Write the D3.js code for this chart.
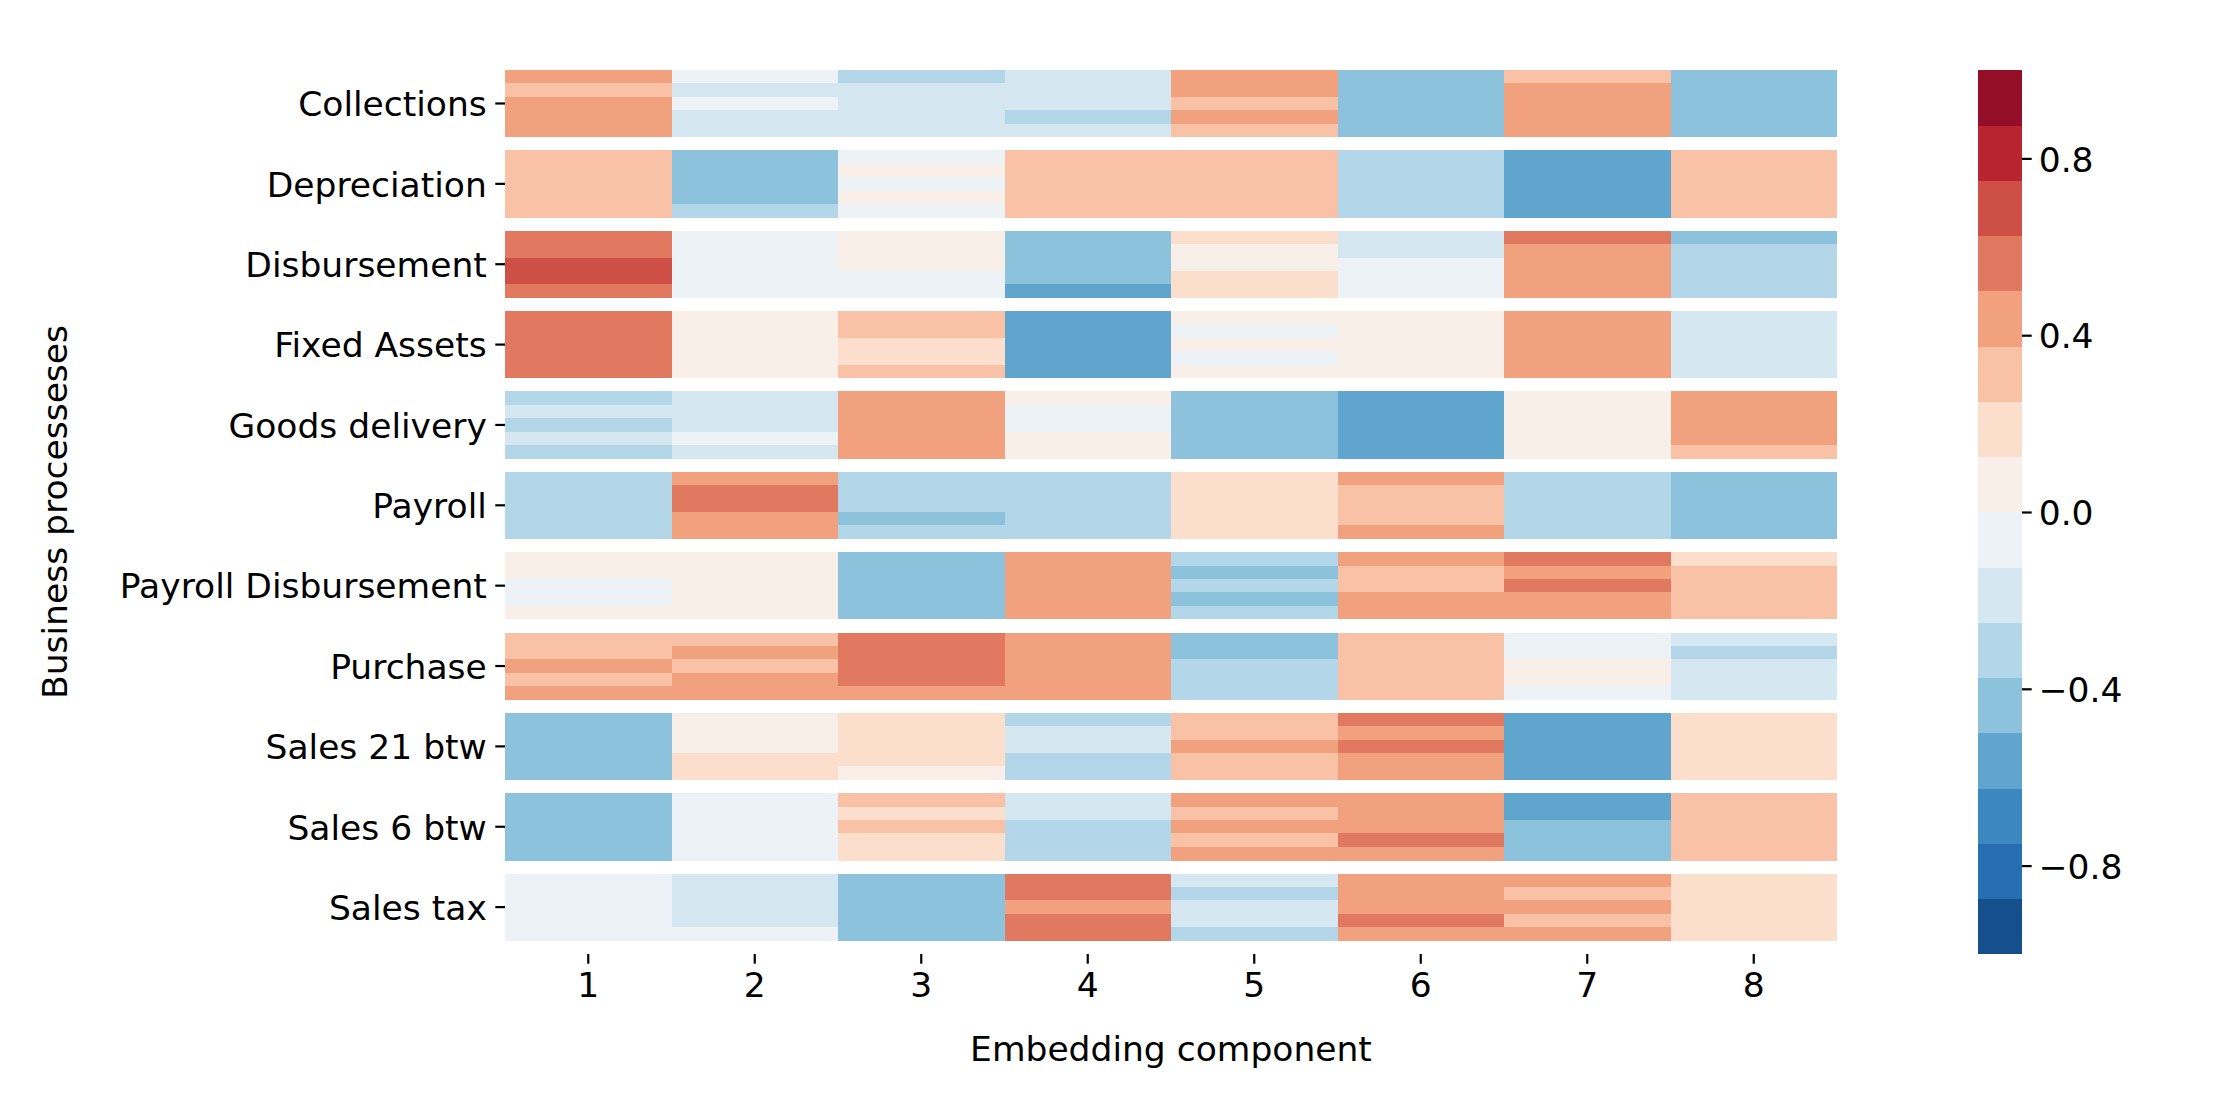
<!DOCTYPE html>
<html>
<head>
<meta charset="utf-8">
<script src="https://cdn.jsdelivr.net/npm/d3@7"></script>
<style>
  html, body { margin: 0; padding: 0; background: #fff; }
  svg { display: block; }
  text { font-family: "DejaVu Sans", sans-serif; fill: #000; }
</style>
</head>
<body>
<svg id="chart" width="2240" height="1120"></svg>
<script>
// ---------------- data ----------------
const processes = ["Collections", "Depreciation", "Disbursement", "Fixed Assets",
  "Goods delivery", "Payroll", "Payroll Disbursement", "Purchase",
  "Sales 21 btw", "Sales 6 btw", "Sales tax"];
const components = [1, 2, 3, 4, 5, 6, 7, 8];
const colorbarTicks = [-0.8, -0.4, 0.0, 0.4, 0.8];

// each process: 5 sub-rows x 8 embedding components
const collections = [
  [0.44, -0.06, -0.31, -0.19, 0.44, -0.44, 0.31, -0.44],
  [0.31, -0.19, -0.19, -0.19, 0.44, -0.44, 0.44, -0.44],
  [0.44, -0.06, -0.19, -0.19, 0.31, -0.44, 0.44, -0.44],
  [0.44, -0.19, -0.19, -0.31, 0.44, -0.44, 0.44, -0.44],
  [0.44, -0.19, -0.19, -0.19, 0.31, -0.44, 0.44, -0.44]];
const depreciation = [
  [0.31, -0.44, -0.06, 0.31, 0.31, -0.31, -0.56, 0.31],
  [0.31, -0.44, 0.06, 0.31, 0.31, -0.31, -0.56, 0.31],
  [0.31, -0.44, -0.06, 0.31, 0.31, -0.31, -0.56, 0.31],
  [0.31, -0.44, 0.06, 0.31, 0.31, -0.31, -0.56, 0.31],
  [0.31, -0.31, -0.06, 0.31, 0.31, -0.31, -0.56, 0.31]];
const disbursement = [
  [0.56, -0.06, 0.06, -0.44, 0.19, -0.19, 0.56, -0.44],
  [0.56, -0.06, 0.06, -0.44, 0.06, -0.19, 0.44, -0.31],
  [0.69, -0.06, 0.06, -0.44, 0.06, -0.06, 0.44, -0.31],
  [0.69, -0.06, -0.06, -0.44, 0.19, -0.06, 0.44, -0.31],
  [0.56, -0.06, -0.06, -0.56, 0.19, -0.06, 0.44, -0.31]];
const fixedAssets = [
  [0.56, 0.06, 0.31, -0.56, 0.06, 0.06, 0.44, -0.19],
  [0.56, 0.06, 0.31, -0.56, -0.06, 0.06, 0.44, -0.19],
  [0.56, 0.06, 0.19, -0.56, 0.06, 0.06, 0.44, -0.19],
  [0.56, 0.06, 0.19, -0.56, -0.06, 0.06, 0.44, -0.19],
  [0.56, 0.06, 0.31, -0.56, 0.06, 0.06, 0.44, -0.19]];
const goodsDelivery = [
  [-0.31, -0.19, 0.44, 0.06, -0.44, -0.56, 0.06, 0.44],
  [-0.19, -0.19, 0.44, -0.06, -0.44, -0.56, 0.06, 0.44],
  [-0.31, -0.19, 0.44, -0.06, -0.44, -0.56, 0.06, 0.44],
  [-0.19, -0.06, 0.44, 0.06, -0.44, -0.56, 0.06, 0.44],
  [-0.31, -0.19, 0.44, 0.06, -0.44, -0.56, 0.06, 0.31]];
const payroll = [
  [-0.31, 0.44, -0.31, -0.31, 0.19, 0.44, -0.31, -0.44],
  [-0.31, 0.56, -0.31, -0.31, 0.19, 0.31, -0.31, -0.44],
  [-0.31, 0.56, -0.31, -0.31, 0.19, 0.31, -0.31, -0.44],
  [-0.31, 0.44, -0.44, -0.31, 0.19, 0.31, -0.31, -0.44],
  [-0.31, 0.44, -0.31, -0.31, 0.19, 0.44, -0.31, -0.44]];
const payrollDisbursement = [
  [0.06, 0.06, -0.44, 0.44, -0.31, 0.44, 0.56, 0.19],
  [0.06, 0.06, -0.44, 0.44, -0.44, 0.31, 0.44, 0.31],
  [-0.06, 0.06, -0.44, 0.44, -0.31, 0.31, 0.56, 0.31],
  [-0.06, 0.06, -0.44, 0.44, -0.44, 0.44, 0.44, 0.31],
  [0.06, 0.06, -0.44, 0.44, -0.31, 0.44, 0.44, 0.31]];
const purchase = [
  [0.31, 0.31, 0.56, 0.44, -0.44, 0.31, -0.06, -0.19],
  [0.31, 0.44, 0.56, 0.44, -0.44, 0.31, -0.06, -0.31],
  [0.44, 0.31, 0.56, 0.44, -0.31, 0.31, 0.06, -0.19],
  [0.31, 0.44, 0.56, 0.44, -0.31, 0.31, 0.06, -0.19],
  [0.44, 0.44, 0.44, 0.44, -0.31, 0.31, -0.06, -0.19]];
const sales21 = [
  [-0.44, 0.06, 0.19, -0.31, 0.31, 0.56, -0.56, 0.19],
  [-0.44, 0.06, 0.19, -0.19, 0.31, 0.44, -0.56, 0.19],
  [-0.44, 0.06, 0.19, -0.19, 0.44, 0.56, -0.56, 0.19],
  [-0.44, 0.19, 0.19, -0.31, 0.31, 0.44, -0.56, 0.19],
  [-0.44, 0.19, 0.06, -0.31, 0.31, 0.44, -0.56, 0.19]];
const sales6 = [
  [-0.44, -0.06, 0.31, -0.19, 0.44, 0.44, -0.56, 0.31],
  [-0.44, -0.06, 0.19, -0.19, 0.31, 0.44, -0.56, 0.31],
  [-0.44, -0.06, 0.31, -0.31, 0.44, 0.44, -0.44, 0.31],
  [-0.44, -0.06, 0.19, -0.31, 0.31, 0.56, -0.44, 0.31],
  [-0.44, -0.06, 0.19, -0.31, 0.44, 0.44, -0.44, 0.31]];
const salesTax = [
  [-0.06, -0.19, -0.44, 0.56, -0.19, 0.44, 0.44, 0.19],
  [-0.06, -0.19, -0.44, 0.56, -0.31, 0.44, 0.31, 0.19],
  [-0.06, -0.19, -0.44, 0.44, -0.19, 0.44, 0.44, 0.19],
  [-0.06, -0.19, -0.44, 0.56, -0.19, 0.56, 0.31, 0.19],
  [-0.06, -0.06, -0.44, 0.56, -0.31, 0.44, 0.44, 0.19]];

const processValues = [collections, depreciation, disbursement, fixedAssets,
  goodsDelivery, payroll, payrollDisbursement, purchase, sales21, sales6, salesTax];

// ---------------- colours (RdBu_r, 16 discrete levels) ----------------
const rdbuR = ["#053061", "#2166ac", "#4393c3", "#92c5de", "#d1e5f0", "#f7f7f7",
  "#fddbc7", "#f4a582", "#d6604d", "#b2182b", "#67001f"];
const cont = d3.scaleLinear().domain(d3.range(11).map(i => i / 10)).range(rdbuR)
  .interpolate(d3.interpolateRgb);
const nLevels = 16;
const levels = d3.range(nLevels).map(k => cont((k + 1) / (nLevels + 1)));
const color = d3.scaleQuantize().domain([-1, 1]).range(levels);

// ---------------- layout ----------------
const svg = d3.select("#chart");
const plotLeft = 505, plotRight = 1837, plotTop = 70, plotBottom = 954;
const FS = 34.5;

const x = d3.scaleBand().domain(components).range([plotLeft, plotRight]);
const yGroup = d3.scaleBand().domain(processes).range([plotTop, plotBottom])
  .paddingInner(1 / 6).paddingOuter(1 / 12).align(0);
const ySub = d3.scaleBand().domain(d3.range(5)).range([0, yGroup.bandwidth()]);

const cells = [];
processes.forEach((p, gi) => {
  processValues[gi].forEach((row, ri) => {
    row.forEach((v, ci) => cells.push({ p, ri, c: components[ci], v }));
  });
});

svg.append("g").attr("shape-rendering", "crispEdges")
  .selectAll("rect").data(cells).join("rect")
  .attr("x", d => x(d.c))
  .attr("y", d => yGroup(d.p) + ySub(d.ri))
  .attr("width", x.bandwidth())
  .attr("height", ySub.bandwidth() + 0.3)
  .attr("fill", d => color(d.v));

// axes
const yAxis = svg.append("g").attr("transform", `translate(${plotLeft},0)`)
  .call(d3.axisLeft(yGroup).tickSize(9.7).tickPadding(8.5));
yAxis.select(".domain").remove();
yAxis.selectAll(".tick line").attr("stroke", "#000").attr("stroke-width", 2.2);
yAxis.selectAll(".tick text").attr("font-size", FS).attr("font-family", "DejaVu Sans")
  .attr("fill", "#000").attr("dy", "0.37em");

const xAxis = svg.append("g").attr("transform", `translate(0,${plotBottom})`)
  .call(d3.axisBottom(x).tickSize(9.7).tickPadding(9));
xAxis.select(".domain").remove();
xAxis.selectAll(".tick line").attr("stroke", "#000").attr("stroke-width", 2.2);
xAxis.selectAll(".tick text").attr("font-size", FS).attr("font-family", "DejaVu Sans").attr("fill", "#000");

svg.append("text").attr("x", (plotLeft + plotRight) / 2).attr("y", 1061)
  .attr("text-anchor", "middle").attr("font-size", FS).text("Embedding component");
svg.append("text").attr("transform", `translate(67,${(plotTop + plotBottom) / 2}) rotate(-90)`)
  .attr("text-anchor", "middle").attr("font-size", FS).text("Business processeses");

// colorbar
const cbX = 1978, cbW = 44;
const cbScale = d3.scaleLinear().domain([-1, 1]).range([plotBottom, plotTop]);
const bins = d3.range(nLevels).map(k => ({ lo: -1 + 2 * k / nLevels, hi: -1 + 2 * (k + 1) / nLevels }));
svg.append("g").attr("shape-rendering", "crispEdges")
  .selectAll("rect").data(bins).join("rect")
  .attr("x", cbX).attr("width", cbW)
  .attr("y", d => cbScale(d.hi))
  .attr("height", d => cbScale(d.lo) - cbScale(d.hi) + 0.3)
  .attr("fill", d => color((d.lo + d.hi) / 2));
const cbAxis = svg.append("g").attr("transform", `translate(${cbX + cbW},0)`)
  .call(d3.axisRight(cbScale).tickValues(colorbarTicks).tickFormat(d3.format(".1f"))
    .tickSize(9.7).tickPadding(7));
cbAxis.select(".domain").remove();
cbAxis.selectAll(".tick line").attr("stroke", "#000").attr("stroke-width", 2.2);
cbAxis.selectAll(".tick text").attr("font-size", FS).attr("font-family", "DejaVu Sans")
  .attr("fill", "#000").attr("dy", "0.37em");
</script>
</body>
</html>
